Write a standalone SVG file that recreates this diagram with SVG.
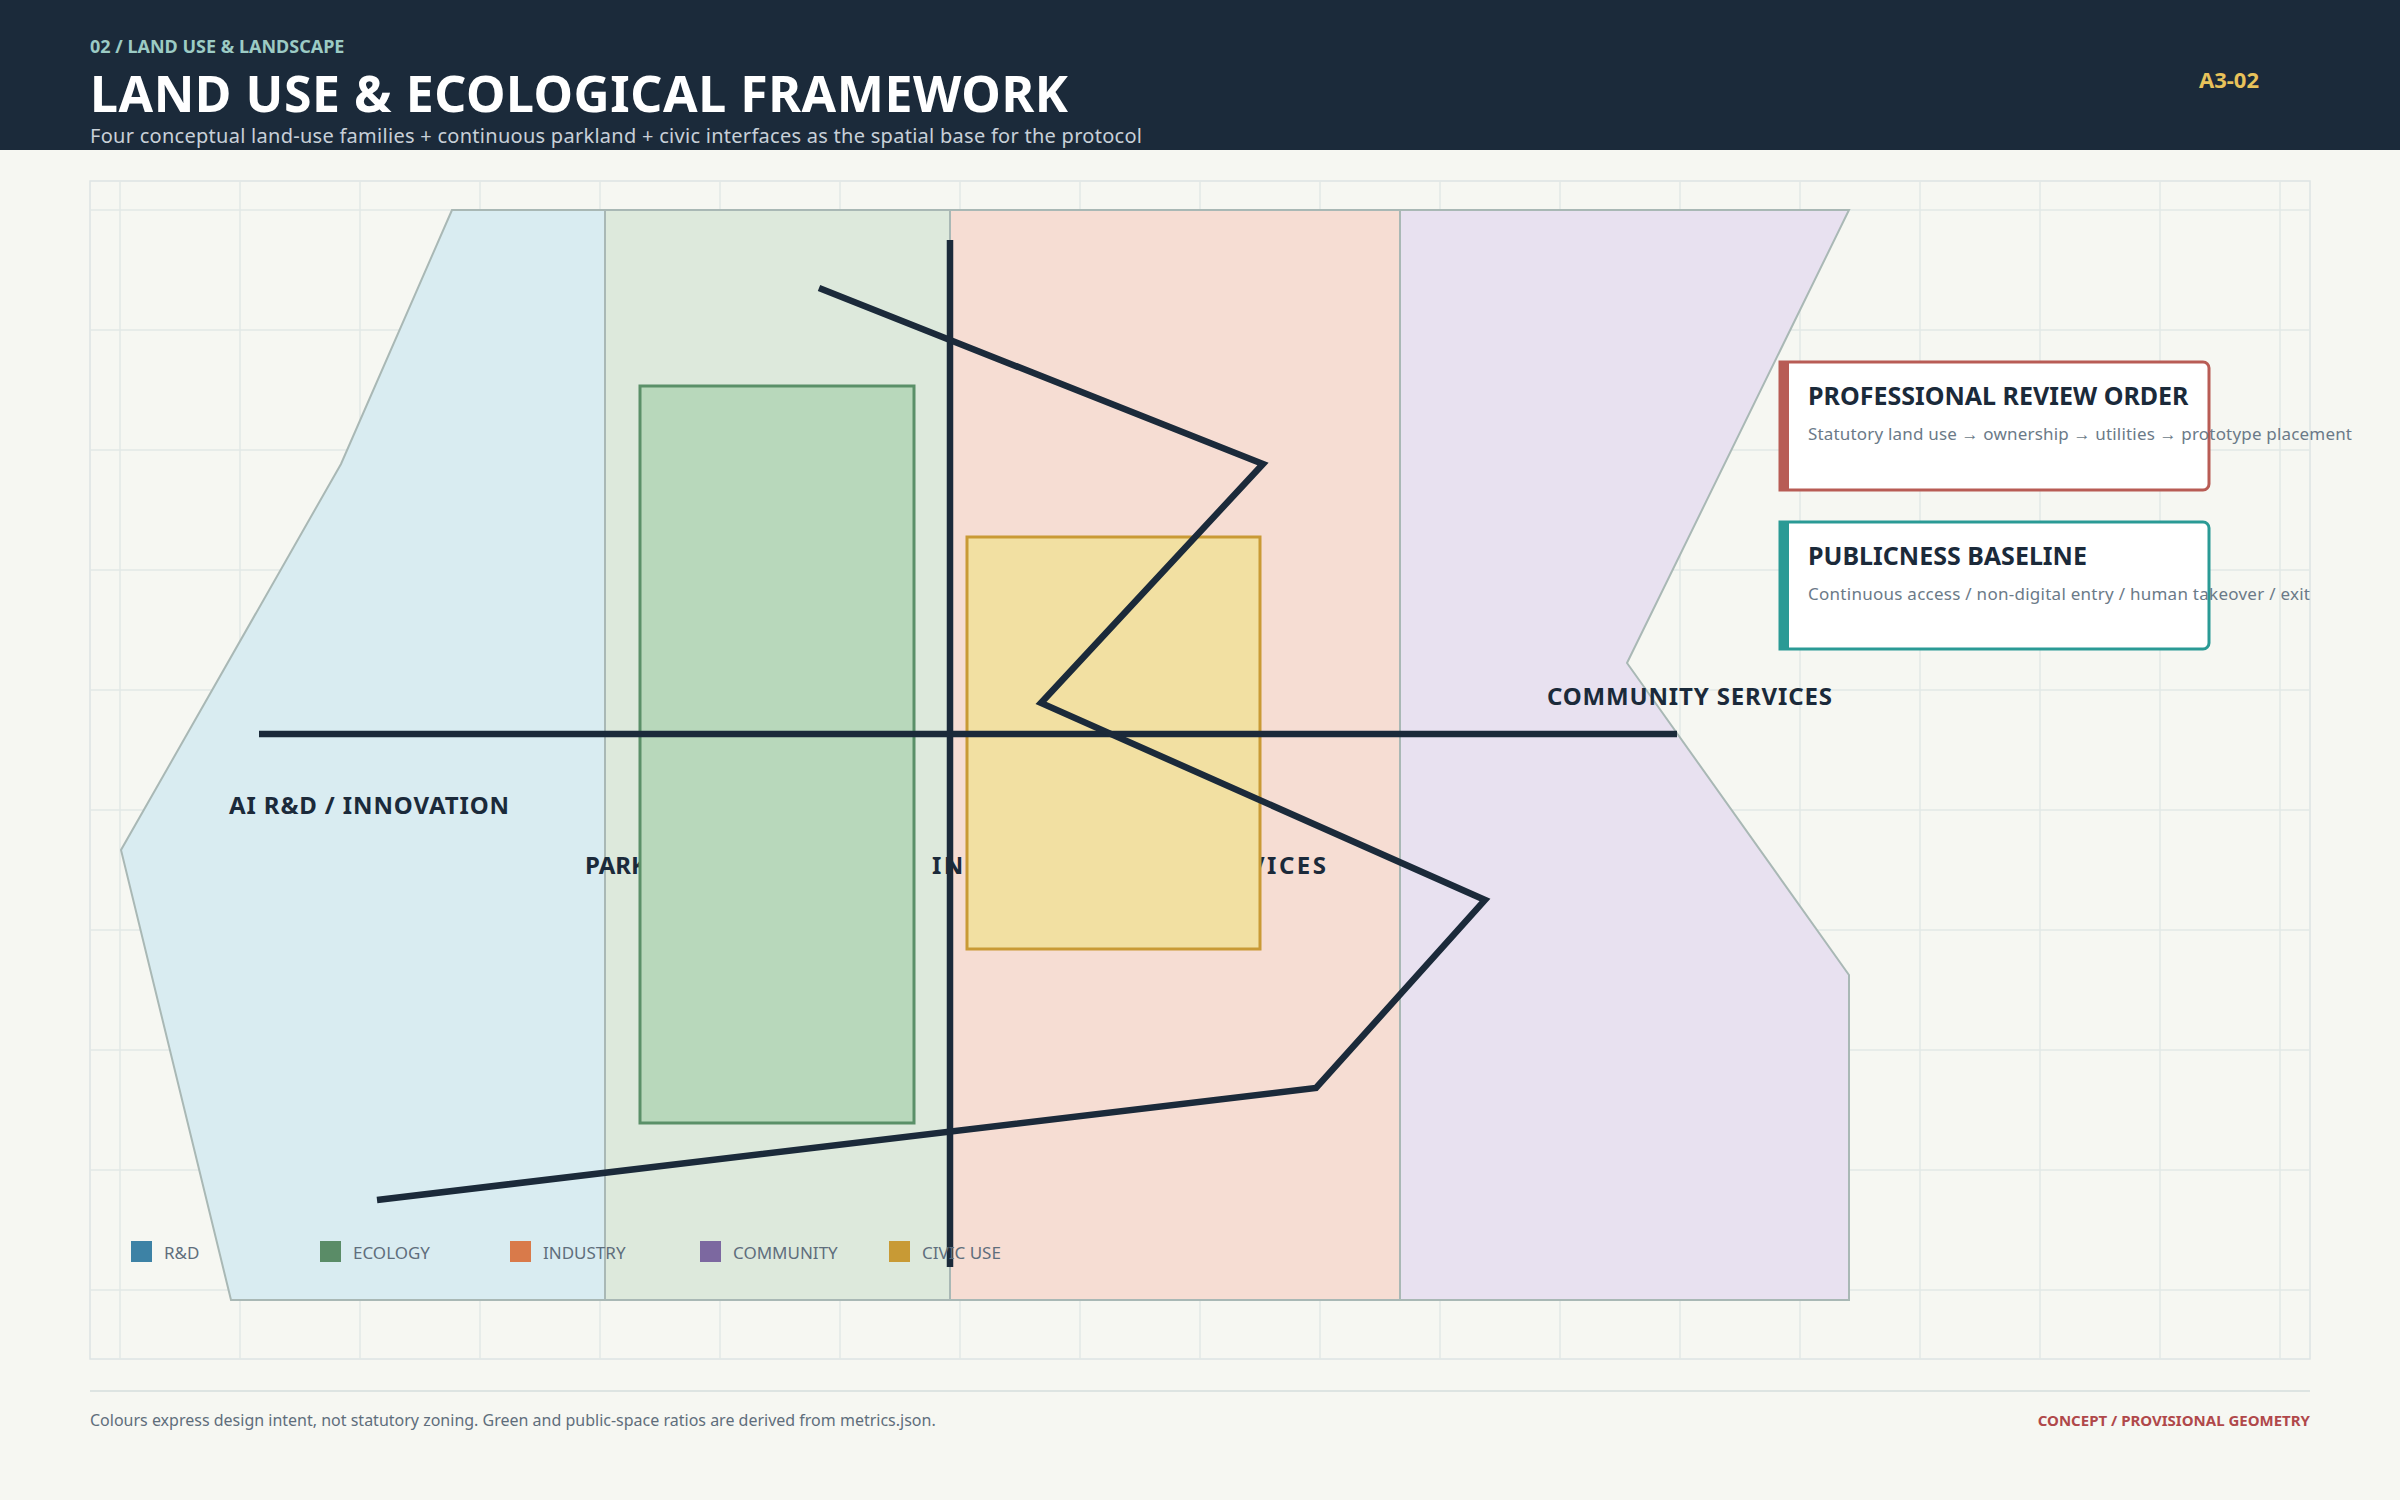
<svg xmlns="http://www.w3.org/2000/svg" width="2400" height="1500" viewBox="0 0 2400 1500">
<defs>
<style>
text{font-family:"Noto Sans","Open Sans","Liberation Sans",sans-serif}
.grid line{stroke:#e2e8e6;stroke-width:1.5}
.zone{stroke:#a9b8b5;stroke-width:2}
.lbl{font-size:24px;font-weight:700;fill:#1b2a3a}
.leg{font-size:17px;fill:#5f6e7c}
.spine{fill:none;stroke:#1b2a3a;stroke-width:6.5}
.ct{font-size:25px;font-weight:700;fill:#1b2a3a}
.cs{font-size:17px;fill:#6b7a88}
</style>
</defs>
<rect width="2400" height="1500" fill="#f6f7f2"/>
<rect width="2400" height="150" fill="#1b2a3a"/>
<text x="90" y="53" font-size="18" font-weight="700" fill="#9ccbc4">02 / LAND USE &amp; LANDSCAPE</text>
<text x="90" y="112" font-size="50" font-weight="700" fill="#ffffff" textLength="978">LAND USE &amp; ECOLOGICAL FRAMEWORK</text>
<text x="90" y="143" font-size="20" fill="#c8d0d8" textLength="1052">Four conceptual land-use families + continuous parkland + civic interfaces as the spatial base for the protocol</text>
<text x="2259" y="88" font-size="22" font-weight="700" fill="#e8c25a" text-anchor="end">A3-02</text>
<rect x="90" y="181" width="2220" height="1178" fill="#f6f7f2" stroke="#dde4e4" stroke-width="1.5"/>
<g class="grid">
<line x1="120" y1="181" x2="120" y2="1359"/><line x1="240" y1="181" x2="240" y2="1359"/><line x1="360" y1="181" x2="360" y2="1359"/><line x1="480" y1="181" x2="480" y2="1359"/><line x1="600" y1="181" x2="600" y2="1359"/><line x1="720" y1="181" x2="720" y2="1359"/><line x1="840" y1="181" x2="840" y2="1359"/><line x1="960" y1="181" x2="960" y2="1359"/><line x1="1080" y1="181" x2="1080" y2="1359"/><line x1="1200" y1="181" x2="1200" y2="1359"/><line x1="1320" y1="181" x2="1320" y2="1359"/><line x1="1440" y1="181" x2="1440" y2="1359"/><line x1="1560" y1="181" x2="1560" y2="1359"/><line x1="1680" y1="181" x2="1680" y2="1359"/><line x1="1800" y1="181" x2="1800" y2="1359"/><line x1="1920" y1="181" x2="1920" y2="1359"/><line x1="2040" y1="181" x2="2040" y2="1359"/><line x1="2160" y1="181" x2="2160" y2="1359"/><line x1="2280" y1="181" x2="2280" y2="1359"/>
<line x1="90" y1="210" x2="2310" y2="210"/><line x1="90" y1="330" x2="2310" y2="330"/><line x1="90" y1="450" x2="2310" y2="450"/><line x1="90" y1="570" x2="2310" y2="570"/><line x1="90" y1="690" x2="2310" y2="690"/><line x1="90" y1="810" x2="2310" y2="810"/><line x1="90" y1="930" x2="2310" y2="930"/><line x1="90" y1="1050" x2="2310" y2="1050"/><line x1="90" y1="1170" x2="2310" y2="1170"/><line x1="90" y1="1290" x2="2310" y2="1290"/>
</g>
<g id="zone-rd"><polygon class="zone" points="452,210 341,464 121,850 231,1300 605,1300 605,210" fill="#d9ecf1"/></g>
<g id="zone-park"><rect class="zone" x="605" y="210" width="345" height="1090" fill="#dde9dc"/></g>
<g id="zone-industry"><rect class="zone" x="950" y="210" width="450" height="1090" fill="#f6ddd3"/></g>
<g id="zone-community"><polygon class="zone" points="1400,210 1849,210 1627,663 1849,975 1849,1300 1400,1300" fill="#e8e1f0"/></g>
<g id="labels">
<text class="lbl" x="229" y="814" textLength="280">AI R&amp;D / INNOVATION</text>
<text class="lbl" x="1547" y="705" textLength="285">COMMUNITY SERVICES</text>
<text class="lbl" x="585" y="874">PARKLAND / ECOLOGY</text>
<text class="lbl" x="932" y="874" textLength="394">INDUSTRY &amp; CIVIC SERVICES</text>
</g>
<g id="park-core"><rect x="640" y="386" width="274" height="737" fill="#b8d8bb" stroke="#5a9068" stroke-width="3"/></g>
<g id="civic-core"><rect x="967" y="537" width="293" height="412" fill="#f2e0a2" stroke="#c99a35" stroke-width="3"/></g>
<g id="connectors">
<line class="spine" x1="950" y1="240" x2="950" y2="1267"/>
<line class="spine" x1="259" y1="734" x2="1677" y2="734"/>
<polyline class="spine" points="819,288 1263,464 1041,703 1485,900 1316,1088 377,1200"/>
</g>
<g id="card-review">
<path d="M1780,362 H2203 a6,6 0 0 1 6,6 V484 a6,6 0 0 1 -6,6 H1780 Z" fill="#ffffff" stroke="#b85c55" stroke-width="3"/>
<rect x="1780" y="362" width="9" height="128" fill="#b85c55"/>
<text class="ct" x="1808" y="405">PROFESSIONAL REVIEW ORDER</text>
<text class="cs" x="1808" y="440" textLength="544">Statutory land use → ownership → utilities → prototype placement</text>
</g>
<g id="card-public">
<path d="M1780,522 H2203 a6,6 0 0 1 6,6 V643 a6,6 0 0 1 -6,6 H1780 Z" fill="#ffffff" stroke="#2a9a95" stroke-width="3"/>
<rect x="1780" y="522" width="9" height="127" fill="#2a9a95"/>
<text class="ct" x="1808" y="565">PUBLICNESS BASELINE</text>
<text class="cs" x="1808" y="600" textLength="502">Continuous access / non-digital entry / human takeover / exit</text>
</g>
<g id="legend">
<rect x="131" y="1241" width="21" height="21" fill="#3d82a5"/><text class="leg" x="164" y="1259">R&amp;D</text>
<rect x="320" y="1241" width="21" height="21" fill="#5a8c67"/><text class="leg" x="353" y="1259">ECOLOGY</text>
<rect x="510" y="1241" width="21" height="21" fill="#d97a4a"/><text class="leg" x="543" y="1259">INDUSTRY</text>
<rect x="700" y="1241" width="21" height="21" fill="#7c68a0"/><text class="leg" x="733" y="1259">COMMUNITY</text>
<rect x="889" y="1241" width="21" height="21" fill="#c89a35"/><text class="leg" x="922" y="1259">CIVIC USE</text>
</g>
<line x1="90" y1="1391" x2="2310" y2="1391" stroke="#dde4e2" stroke-width="2"/>
<text x="90" y="1426" font-size="16" fill="#5f6e7c">Colours express design intent, not statutory zoning. Green and public-space ratios are derived from metrics.json.</text>
<text x="2310" y="1426" font-size="15" font-weight="700" fill="#b0484a" text-anchor="end">CONCEPT / PROVISIONAL GEOMETRY</text>
</svg>
